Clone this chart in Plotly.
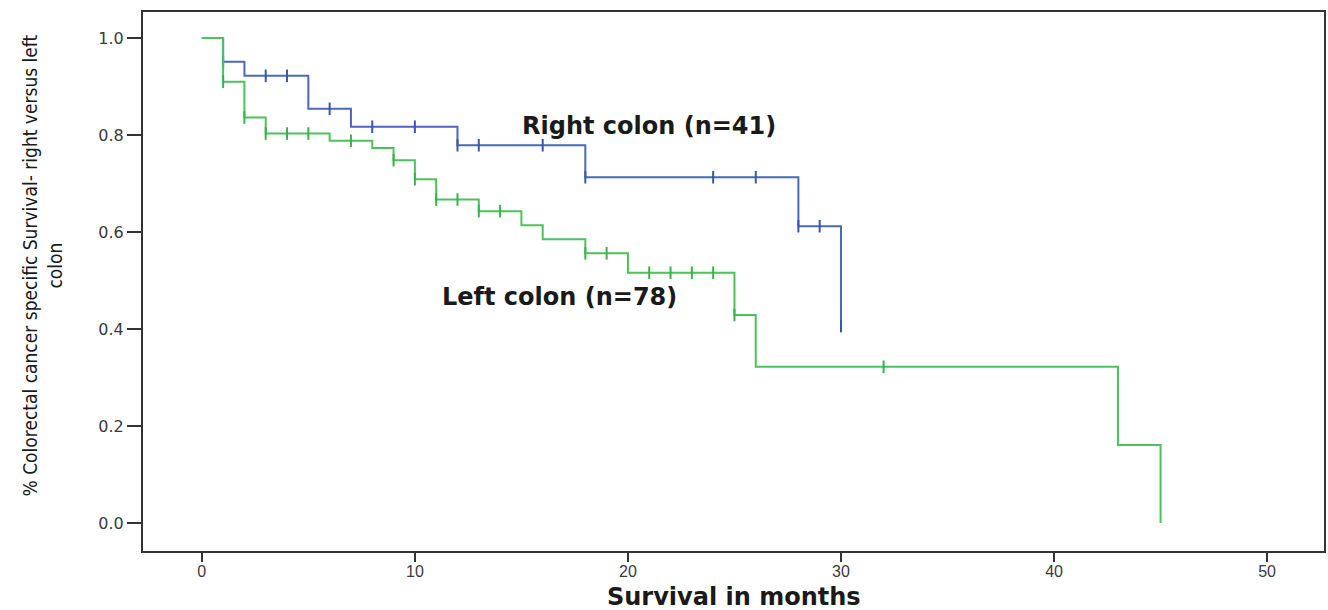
import numpy as np
import plotly.graph_objects as go

# Right colon (n=41): Kaplan-Meier steps
right_times = [0, 1, 2, 5, 7, 12, 18, 28, 30]
right_surv = [1.0, 0.951, 0.922, 0.854, 0.817, 0.779, 0.713, 0.612, 0.406]
right_censored = [1, 3, 4, 6, 8, 10, 12, 13, 16, 18, 24, 26, 28, 29, 30]

# Left colon (n=78): Kaplan-Meier steps
left_times = [0, 1, 2, 3, 6, 8, 9, 10, 11, 13, 15, 16, 18, 20, 25, 26, 43, 45]
left_surv = [1.0, 0.910, 0.836, 0.803, 0.788, 0.773, 0.748, 0.709, 0.667,
             0.643, 0.614, 0.585, 0.556, 0.516, 0.429, 0.322, 0.161, 0.0]
left_censored = [1, 2, 3, 4, 5, 7, 9, 10, 11, 12, 13, 14, 18, 19, 21, 22, 23, 24, 25, 32]

x_ticks = [0, 10, 20, 30, 40, 50]
y_ticks = [0.0, 0.2, 0.4, 0.6, 0.8, 1.0]
y_tick_labels = ["0.0", "0.2", "0.4", "0.6", "0.8", "1.0"]

BLUE = "#4a68bd"
BLUE_MARK = "#3a56ae"
GREEN = "#4cc25c"
GREEN_MARK = "#36b448"


def surv_at(times, surv, t):
    idx = np.searchsorted(np.asarray(times), t, side="right") - 1
    return float(np.asarray(surv)[idx])


fig = go.Figure()

for times, surv, cens, col, mcol, name in [
    (right_times, right_surv, right_censored, BLUE, BLUE_MARK, "Right colon"),
    (left_times, left_surv, left_censored, GREEN, GREEN_MARK, "Left colon"),
]:
    fig.add_trace(go.Scatter(
        x=times, y=surv, mode="lines", line=dict(color=col, width=2, shape="hv"),
        name=name, showlegend=False, hoverinfo="skip"))
    fig.add_trace(go.Scatter(
        x=cens, y=[surv_at(times, surv, t) for t in cens], mode="markers",
        marker=dict(symbol="line-ns", size=9, line=dict(color=mcol, width=2)),
        name=name + " censored", showlegend=False, hoverinfo="skip"))

fig.add_annotation(x=21.0, y=0.819, xref="x", yref="y", text="Right colon (n=41)",
                   showarrow=False, font=dict(family="DejaVu Sans", size=24, color="#1a1a1a", weight="bold"))
fig.add_annotation(x=16.8, y=0.466, xref="x", yref="y", text="Left colon (n=78)",
                   showarrow=False, font=dict(family="DejaVu Sans", size=24, color="#1a1a1a", weight="bold"))

# axis titles
fig.add_annotation(x=0.5, y=-0.0853, xref="paper", yref="paper", text="Survival in months",
                   showarrow=False, xanchor="center", yanchor="middle",
                   font=dict(family="DejaVu Sans", size=24, color="#1a1a1a", weight="bold"))
fig.add_annotation(x=(42 - 143) / 1183, y=0.53, xref="paper", yref="paper",
                   text="% Colorectal cancer specific Survival- right versus left<br>colon",
                   showarrow=False, textangle=-90, xanchor="center", yanchor="middle",
                   font=dict(family="Liberation Sans Narrow, DejaVu Sans Condensed, Arial Narrow, sans-serif",
                             size=19, color="#1a1a1a"))

fig.update_layout(
    width=1328, height=610,
    margin=dict(l=143, r=2, t=12, b=59),
    paper_bgcolor="white", plot_bgcolor="white",
    xaxis=dict(range=[-2.76, 52.67], tickvals=x_ticks, showgrid=False, zeroline=False,
               showline=True, linecolor="#333333", linewidth=2, mirror=True,
               ticks="outside", ticklen=9, tickwidth=2, tickcolor="#333333",
               ticklabelstandoff=-4,
               tickfont=dict(family="Liberation Sans, Arial, sans-serif", size=16, color="#3a3a3a")),
    yaxis=dict(range=[-0.0577, 1.0536], tickvals=y_ticks, ticktext=y_tick_labels,
               showgrid=False, zeroline=False,
               showline=True, linecolor="#333333", linewidth=2, mirror=True,
               ticks="outside", ticklen=14, tickwidth=2, tickcolor="#333333",
               tickfont=dict(family="DejaVu Sans, sans-serif", size=16, color="#3a3a3a")),
)

fig.write_html("out.html")
